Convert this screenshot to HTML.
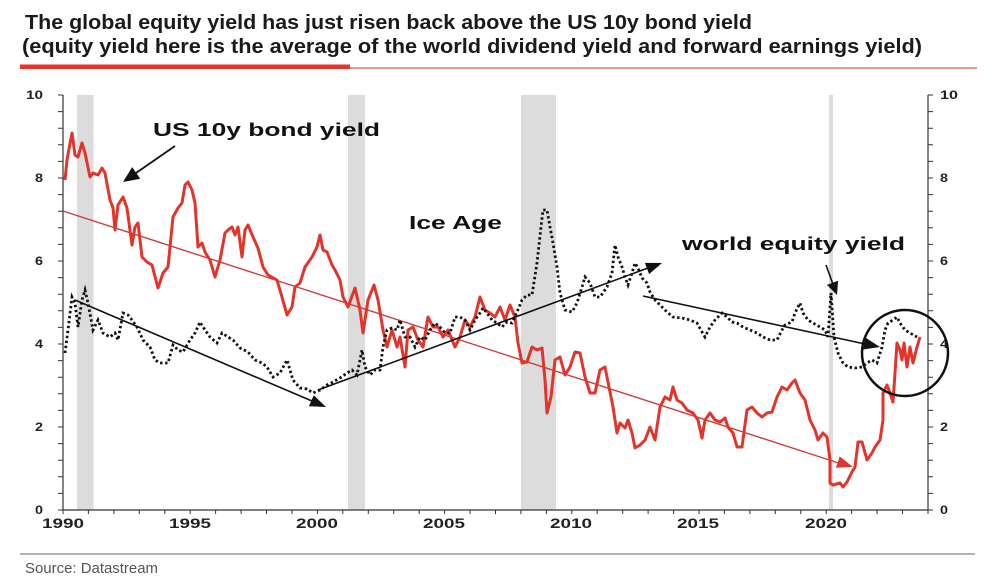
<!DOCTYPE html>
<html><head><meta charset="utf-8"><style>
html,body{margin:0;padding:0;background:#fff;}
svg{display:block;}
</style></head><body>
<svg width="989" height="584" viewBox="0 0 989 584" xmlns="http://www.w3.org/2000/svg">
<rect width="989" height="584" fill="#fff"/>
<!-- title -->
<text x="25" y="29" font-family="Liberation Sans, sans-serif" font-weight="bold" font-size="20" fill="#1a1a1a" textLength="727" lengthAdjust="spacingAndGlyphs">The global equity yield has just risen back above the US 10y bond yield</text>
<text x="22" y="53" font-family="Liberation Sans, sans-serif" font-weight="bold" font-size="20" fill="#1a1a1a" textLength="900" lengthAdjust="spacingAndGlyphs">(equity yield here is the average of the world dividend yield and forward earnings yield)</text>
<rect x="350" y="67.3" width="627" height="1.4" fill="#e0665a"/>
<rect x="20" y="64.5" width="330" height="4.5" fill="#e3342b"/>

<!-- recession bands -->
<g fill="#dcdcdc">
<rect x="77" y="95" width="16.5" height="415"/>
<rect x="348" y="95" width="17" height="415"/>
<rect x="521" y="95" width="35" height="415"/>
<rect x="829" y="95" width="4" height="415"/>
</g>

<!-- axes -->
<g stroke="#333" stroke-width="1.2" fill="none">
<line x1="63" y1="95" x2="63" y2="510"/>
<line x1="928" y1="95" x2="928" y2="510"/>
<line x1="63" y1="510" x2="928" y2="510"/>
</g>
<g stroke="#333" stroke-width="1">
<path d="M58 510H63M58 493.4H63M58 476.8H63M58 460.2H63M58 443.6H63M58 427H63M58 410.4H63M58 393.8H63M58 377.2H63M58 360.6H63M58 344H63M58 327.4H63M58 310.8H63M58 294.2H63M58 277.6H63M58 261H63M58 244.4H63M58 227.8H63M58 211.2H63M58 194.6H63M58 178H63M58 161.4H63M58 144.8H63M58 128.2H63M58 111.6H63M58 95H63"/>
<path d="M928 510H933M928 493.4H933M928 476.8H933M928 460.2H933M928 443.6H933M928 427H933M928 410.4H933M928 393.8H933M928 377.2H933M928 360.6H933M928 344H933M928 327.4H933M928 310.8H933M928 294.2H933M928 277.6H933M928 261H933M928 244.4H933M928 227.8H933M928 211.2H933M928 194.6H933M928 178H933M928 161.4H933M928 144.8H933M928 128.2H933M928 111.6H933M928 95H933"/>
<path d="M63 510v4M88.4 510v4M113.9 510v4M139.3 510v4M164.8 510v4M190.2 510v4M215.6 510v4M241.1 510v4M266.5 510v4M292 510v4M317.4 510v4M342.8 510v4M368.3 510v4M393.7 510v4M419.2 510v4M444.6 510v4M470 510v4M495.5 510v4M520.9 510v4M546.4 510v4M571.8 510v4M597.2 510v4M622.7 510v4M648.1 510v4M673.6 510v4M699 510v4M724.4 510v4M749.9 510v4M775.3 510v4M800.8 510v4M826.2 510v4M851.6 510v4M877.1 510v4M902.5 510v4M928 510v4"/>
</g>

<!-- y labels -->
<g font-family="Liberation Sans, sans-serif" font-weight="bold" font-size="12" fill="#222">
<text x="26" y="99" textLength="17" lengthAdjust="spacingAndGlyphs">10</text>
<text x="35" y="182" textLength="8" lengthAdjust="spacingAndGlyphs">8</text>
<text x="35" y="265" textLength="8" lengthAdjust="spacingAndGlyphs">6</text>
<text x="35" y="348" textLength="8" lengthAdjust="spacingAndGlyphs">4</text>
<text x="35" y="431" textLength="8" lengthAdjust="spacingAndGlyphs">2</text>
<text x="35" y="514" textLength="8" lengthAdjust="spacingAndGlyphs">0</text>
<text x="940" y="99" textLength="18" lengthAdjust="spacingAndGlyphs">10</text>
<text x="940" y="182" textLength="8" lengthAdjust="spacingAndGlyphs">8</text>
<text x="940" y="265" textLength="8" lengthAdjust="spacingAndGlyphs">6</text>
<text x="940" y="348" textLength="8" lengthAdjust="spacingAndGlyphs">4</text>
<text x="940" y="431" textLength="8" lengthAdjust="spacingAndGlyphs">2</text>
<text x="940" y="514" textLength="8" lengthAdjust="spacingAndGlyphs">0</text>
</g>
<!-- x labels -->
<g font-family="Liberation Sans, sans-serif" font-weight="bold" font-size="14" fill="#222">
<text x="42" y="528" textLength="42" lengthAdjust="spacingAndGlyphs">1990</text>
<text x="169" y="528" textLength="42" lengthAdjust="spacingAndGlyphs">1995</text>
<text x="296" y="528" textLength="42" lengthAdjust="spacingAndGlyphs">2000</text>
<text x="423" y="528" textLength="42" lengthAdjust="spacingAndGlyphs">2005</text>
<text x="550" y="528" textLength="42" lengthAdjust="spacingAndGlyphs">2010</text>
<text x="677" y="528" textLength="42" lengthAdjust="spacingAndGlyphs">2015</text>
<text x="805" y="528" textLength="42" lengthAdjust="spacingAndGlyphs">2020</text>
</g>

<!-- red trend line -->
<line x1="63" y1="211" x2="840" y2="463.5" stroke="#c8403e" stroke-width="1.4"/>
<polygon points="853,467 835.9,467.8 839.7,456.4" fill="#d63a33"/>

<!-- US 10y series -->
<polyline fill="none" stroke="#e3342b" stroke-width="3" stroke-linejoin="round" points="65,180 67,160 72,133 75,155 78,157 82,143 85,153 90,177 93,173 98,175 102,168 105,173 110,200 113,208 115,230 118,205 123,197 127,208 132,245 135,227 138,223 142,257 147,262 152,265 158,288 163,273 168,267 173,217 178,208 182,203 185,185 188,182 192,190 195,203 198,247 202,243 205,252 210,260 215,277 220,260 225,233 228,230 232,227 235,235 238,227 242,257 245,230 248,225 253,237 258,248 263,267 268,275 277,280 282,297 287,315 292,307 295,287 300,283 305,267 312,257 317,247 320,235 323,250 327,252 332,265 335,270 340,280 343,297 348,307 355,288 360,310 363,333 368,300 374,285 378,300 383,330 387,347 392,330 397,347 400,337 405,367 408,330 413,327 418,340 423,347 428,317 433,327 438,327 443,337 448,330 455,347 460,337 465,320 470,327 475,317 480,297 485,310 490,313 495,317 500,307 505,320 510,305 515,317 518,343 522,363 527,362 532,347 537,350 542,348 545,380 547,413 551,397 555,360 560,357 565,375 570,367 575,352 580,353 585,377 590,393 595,393 600,370 605,367 607,377 613,407 617,433 620,423 625,428 628,420 632,433 635,448 640,445 645,440 650,427 655,440 660,407 665,397 670,400 673,387 677,400 682,403 687,410 693,413 698,420 702,438 705,420 710,413 715,420 720,422 725,418 728,427 733,433 737,447 742,447 747,410 752,407 757,413 762,417 767,413 772,412 777,397 782,387 787,390 792,383 795,380 800,393 805,400 810,420 815,430 818,440 823,433 827,437 830,460 830,483 833,485 840,483 843,487 847,482 852,472 855,467 858,442 862,442 867,460 872,453 875,447 880,440 883,420 883,393 887,385 890,393 893,402 895,373 897,343 900,350 902,360 904,343 907,367 910,347 913,363 917,347 920,337"/>

<!-- world equity yield (dotted) -->
<polyline fill="none" stroke="#111" stroke-width="2.8" stroke-dasharray="2.4,2.6" points="65,353 68,330 72,297 75,303 78,327 82,300 85,290 88,303 93,330 98,320 103,333 110,337 115,333 118,340 123,313 128,315 132,320 137,327 143,340 150,347 155,360 160,363 168,363 173,345 178,350 183,352 190,340 195,333 200,322 205,330 210,337 217,343 222,333 228,337 233,340 240,348 248,352 255,360 262,363 267,367 273,377 280,373 287,360 290,370 293,380 300,388 307,389 313,393 320,390 327,385 333,382 340,378 347,373 352,370 357,375 362,350 365,367 370,375 375,370 380,370 383,347 387,330 392,328 397,330 400,320 405,337 410,337 415,347 420,337 425,340 430,330 435,323 440,327 445,333 450,333 455,317 460,317 465,320 470,330 475,320 480,313 483,308 487,313 492,320 497,323 502,327 507,322 512,323 517,312 522,300 527,295 532,295 537,263 541,227 543,210 547,210 550,227 553,243 557,267 560,293 565,310 572,312 577,303 582,287 585,277 590,283 595,297 600,297 607,287 612,273 615,245 618,257 622,267 625,277 628,285 632,273 635,263 638,268 642,278 647,283 650,292 655,300 660,305 667,312 673,317 682,318 690,320 697,323 702,332 705,337 710,327 715,320 722,313 727,317 732,322 737,323 743,327 750,330 757,333 763,337 770,340 777,340 782,330 785,325 792,322 795,313 800,303 803,313 808,320 813,323 820,327 825,330 828,337 831,293 834,337 838,353 843,363 848,367 855,368 862,367 867,363 872,360 877,363 882,347 885,330 888,323 893,320 897,317 900,323 905,330 910,333 917,337"/>

<!-- black trend lines -->
<g stroke="#111" stroke-width="1.6">
<line x1="75" y1="300" x2="312" y2="401"/>
<line x1="318" y1="390" x2="648" y2="268"/>
<line x1="643" y1="296" x2="865" y2="344"/>
</g>
<g fill="#111">
<polygon points="326,407 308.9,406.2 313.7,395.2"/>
<polygon points="662,263 649.1,274.1 644.9,262.9"/>
<polygon points="880,347 863.1,349.5 865.6,337.7"/>
</g>

<!-- annotation arrows -->
<line x1="175" y1="146" x2="136" y2="173" stroke="#111" stroke-width="1.8"/>
<polygon points="123,182 132.2,167.1 140.2,178.7" fill="#111"/>
<line x1="826" y1="265" x2="832.5" y2="283" stroke="#111" stroke-width="1.6"/>
<polygon points="837,295 826.9,284.9 838.1,280.7" fill="#111"/>

<!-- circle -->
<circle cx="905" cy="353" r="43" fill="none" stroke="#111" stroke-width="2.5"/>

<!-- annotations -->
<g font-family="Liberation Sans, sans-serif" font-weight="bold" font-size="18" fill="#111">
<text x="153" y="136" textLength="227" lengthAdjust="spacingAndGlyphs">US 10y bond yield</text>
<text x="409" y="229" textLength="93" lengthAdjust="spacingAndGlyphs">Ice Age</text>
<text x="682" y="250" textLength="223" lengthAdjust="spacingAndGlyphs">world equity yield</text>
</g>

<!-- source -->
<line x1="20" y1="554" x2="975" y2="554" stroke="#9a9a9a" stroke-width="1.4"/>
<text x="25" y="573" font-family="Liberation Sans, sans-serif" font-size="15" fill="#555" textLength="133" lengthAdjust="spacingAndGlyphs">Source: Datastream</text>
</svg>
</body></html>
